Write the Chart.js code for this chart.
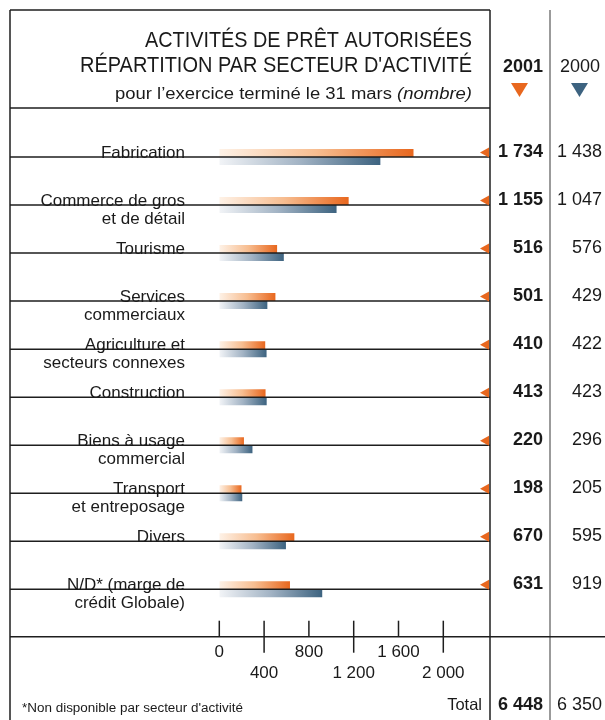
<!DOCTYPE html>
<html><head><meta charset="utf-8">
<script src="https://cdn.jsdelivr.net/npm/chart.js@4.4.1/dist/chart.umd.min.js"></script>
<style>html,body{margin:0;padding:0;background:#fff}#wrap{width:605px;height:720px}</style>
</head><body><div id="wrap"><canvas id="c" width="605" height="720"></canvas></div>
<script>
const categories = [
  ["Fabrication"],
  ["Commerce de gros", "et de détail"],
  ["Tourisme"],
  ["Services", "commerciaux"],
  ["Agriculture et", "secteurs connexes"],
  ["Construction"],
  ["Biens à usage", "commercial"],
  ["Transport", "et entreposage"],
  ["Divers"],
  ["N/D* (marge de", "crédit Globale)"]
];
const values2001 = [1734, 1155, 516, 501, 410, 413, 220, 198, 670, 631];
const values2000 = [1438, 1047, 576, 429, 422, 423, 296, 205, 595, 919];
const seriesNames = ["2001", "2000"];
const totals = ["6 448", "6 350"];
const tickValues = [0, 400, 800, 1200, 1600, 2000];
const tickLabels = ["0", "400", "800", "1 200", "1 600", "2 000"];
const titleLines = ["ACTIVITÉS DE PRÊT AUTORISÉES", "RÉPARTITION PAR SECTEUR D'ACTIVITÉ"];
const subtitle = ["pour l’exercice terminé le 31 mars ", "(nombre)"];
const footnote = "*Non disponible par secteur d'activité";

const FONT = "'Liberation Sans', Arial, sans-serif";
const ORANGE = "#e8671e", BLUE = "#3d6380";

function fmt(n) { return String(n).replace(/\B(?=(\d{3})+(?!\d))/g, " "); }

function grad(stops) {
  return (ctx) => {
    const chart = ctx.chart;
    if (!chart.chartArea) return stops[stops.length - 1];
    const xs = chart.scales.x;
    const x0 = xs.getPixelForValue(0);
    const x1 = xs.getPixelForValue(ctx.raw);
    const g = chart.ctx.createLinearGradient(x0, 0, Math.max(x1, x0 + 1), 0);
    g.addColorStop(0, stops[0]);
    g.addColorStop(0.5, stops[1]);
    g.addColorStop(1, stops[2]);
    return g;
  };
}

function txt(c, s, x, y, font, align, target) {
  c.save();
  c.font = font;
  c.fillStyle = "#1a1a1a";
  c.textBaseline = "alphabetic";
  if (target) {
    const w = c.measureText(s).width;
    const k = target / w;
    c.translate(x, y);
    c.scale(k, 1);
    c.textAlign = align;
    c.fillText(s, 0, 0);
  } else {
    c.textAlign = align;
    c.fillText(s, x, y);
  }
  c.restore();
}

function line(c, x1, y1, x2, y2, color, w) {
  c.save();
  c.strokeStyle = color; c.lineWidth = w;
  c.beginPath(); c.moveTo(x1, y1); c.lineTo(x2, y2); c.stroke();
  c.restore();
}

const tablePlugin = {
  id: "table",
  afterDatasetsDraw(chart) {
    const c = chart.ctx;
    const xs = chart.scales.x, ys = chart.scales.y;
    const dark = "#1e1e1e";
    // frame
    line(c, 10, 10, 490, 10, dark, 1.5);
    line(c, 10, 10, 10, 720, dark, 1.5);
    line(c, 490, 10, 490, 720, dark, 1.5);
    line(c, 550, 10, 550, 720, "#7a7a7a", 1.5);
    line(c, 10, 108, 490, 108, dark, 1.5);
    // title
    txt(c, titleLines[0], 472, 47, "22px " + FONT, "right", 327);
    txt(c, titleLines[1], 472, 72, "22px " + FONT, "right", 392);
    c.save();
    c.font = "italic 16px " + FONT;
    const wi = c.measureText(subtitle[1]).width;
    c.font = "16px " + FONT;
    const wr = c.measureText(subtitle[0]).width;
    c.restore();
    const k = 357 / (wi + wr);
    txt(c, subtitle[1], 472, 99, "italic 16px " + FONT, "right", wi * k);
    txt(c, subtitle[0], 472 - wi * k, 99, "16px " + FONT, "right", wr * k);
    // column headers
    txt(c, seriesNames[0], 543, 72, "bold 18px " + FONT, "right");
    txt(c, seriesNames[1], 600, 72, "18px " + FONT, "right");
    c.save();
    c.fillStyle = ORANGE;
    c.beginPath(); c.moveTo(511, 83); c.lineTo(528, 83); c.lineTo(519.5, 97); c.closePath(); c.fill();
    c.fillStyle = BLUE;
    c.beginPath(); c.moveTo(571, 83); c.lineTo(588, 83); c.lineTo(579.5, 97); c.closePath(); c.fill();
    c.restore();
    // rows
    categories.forEach((lab, i) => {
      const y = ys.getPixelForValue(i);
      line(c, 10, y, 490, y, dark, 1.5);
      txt(c, lab[0], 185, y + 0.5, "17px " + FONT, "right");
      if (lab[1]) txt(c, lab[1], 185, y + 18.5, "17px " + FONT, "right");
      c.save();
      c.fillStyle = ORANGE;
      c.beginPath(); c.moveTo(480, y - 4.5); c.lineTo(489, y - 9.5); c.lineTo(489, y + 0.5); c.closePath(); c.fill();
      c.restore();
      txt(c, fmt(values2001[i]), 543, y, "bold 18px " + FONT, "right");
      txt(c, fmt(values2000[i]), 602, y, "18px " + FONT, "right");
    });
    // axis
    const ay = 636.7;
    line(c, 10, ay, 605, ay, dark, 1.5);
    tickValues.forEach((v, i) => {
      const x = xs.getPixelForValue(v);
      const low = i % 2 === 1;
      line(c, x, 620.7, x, low ? 652.7 : ay, dark, 1.5);
      txt(c, tickLabels[i], x, low ? 678 : 657, "17px " + FONT, "center");
    });
    // footer
    txt(c, footnote, 22, 712, "12.5px " + FONT, "left", 221);
    txt(c, "Total", 482, 710, "16.5px " + FONT, "right");
    txt(c, totals[0], 543, 710, "bold 18px " + FONT, "right");
    txt(c, totals[1], 602, 710, "18px " + FONT, "right");
  }
};

new Chart(document.getElementById("c"), {
  type: "bar",
  data: {
    labels: categories.map(c => c.join(" ")),
    datasets: [
      { label: seriesNames[0], data: values2001, backgroundColor: grad(["#fef2e7", "#f7bd90", ORANGE]), categoryPercentage: 1 / 3, barPercentage: 1, borderWidth: 0 },
      { label: seriesNames[1], data: values2000, backgroundColor: grad(["#f2f4f7", "#a2b3c4", BLUE]), categoryPercentage: 1 / 3, barPercentage: 1, borderWidth: 0 }
    ]
  },
  options: {
    indexAxis: "y",
    responsive: false,
    animation: false,
    devicePixelRatio: 1,
    layout: { padding: { left: 219.3, right: 161.7, top: 133, bottom: 106.7 } },
    scales: {
      x: { display: false, min: 0, max: 2000 },
      y: { display: false }
    },
    plugins: { legend: { display: false }, tooltip: { enabled: false } }
  },
  plugins: [tablePlugin]
});
</script>
</body></html>
